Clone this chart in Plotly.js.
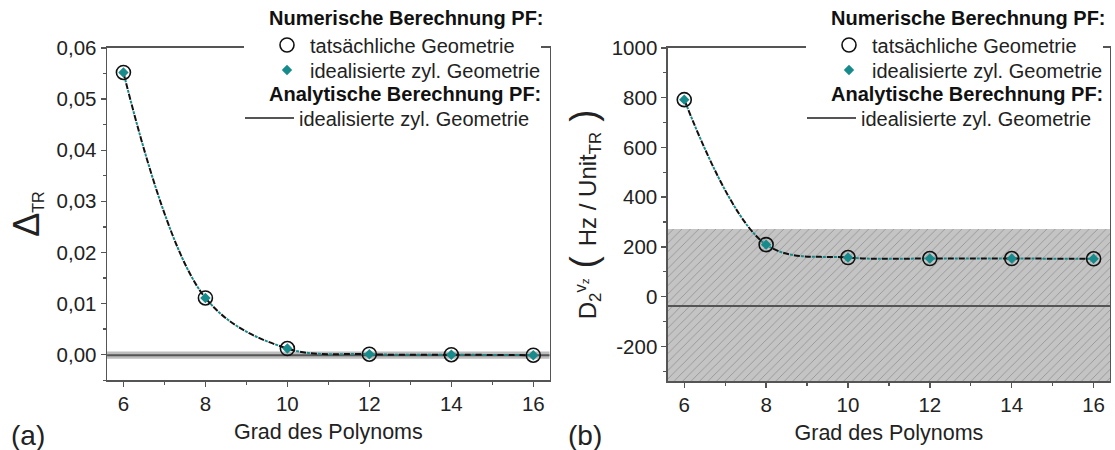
<!DOCTYPE html>
<html>
<head>
<meta charset="utf-8">
<script src="https://cdn.plot.ly/plotly-3.0.1.min.js"></script>
<style>
  html, body { margin: 0; padding: 0; background: #fff; }
  #chart { width: 1115px; height: 450px; }
</style>
</head>
<body>
<div id="chart"></div>
<script>
// Polynomial degree (x axis, both panels)
const grade = [6, 8, 10, 12, 14, 16];

// Panel (a): Delta_TR
const deltaReal  = [0.0552, 0.0111, 0.0012, 0.0001, 0.0000, -0.0001];
const deltaIdeal = [0.0552, 0.0111, 0.0012, 0.0001, 0.0000, -0.0001];
const deltaAnalytic = -0.0001;
const deltaAnalyticBand = 0.0007;

// Panel (b): D2^vz (Hz / Unit_TR)
const dReal  = [792, 209, 157, 153, 153, 152];
const dIdeal = [792, 209, 157, 153, 153, 152];
const dAnalytic = -38;
const dAnalyticBand = 310;

// Tick labels
const xTicks = [6, 8, 10, 12, 14, 16];
const yTicksA = [0, 0.01, 0.02, 0.03, 0.04, 0.05, 0.06];
const yTickTextA = ['0,00', '0,01', '0,02', '0,03', '0,04', '0,05', '0,06'];
const yTicksB = [-200, 0, 200, 400, 600, 800, 1000];
const yTickTextB = ['-200', '0', '200', '400', '600', '800', '1000'];

// Legend texts
const headNum = 'Numerische Berechnung PF:';
const headAna = 'Analytische Berechnung PF:';
const nameReal = 'tatsächliche Geometrie';
const nameIdeal = 'idealisierte zyl. Geometrie';

const FONT = 'Liberation Sans, Arial, Helvetica, sans-serif';
const TEAL = '#178b8b';
const XR = [5.6, 16.4];
const LEG_FONT = 20;
const H = 450, W = 1115;

// one legend per row so the rows keep a tight, even spacing
function panelTraces(xa, ya, real, ideal, ana, band, bandStyle, lgs) {
  const xEdge = [XR[0], XR[1], XR[1], XR[0], XR[0]];
  const yEdge = [ana - band, ana - band, ana + band, ana + band, ana - band];
  const bandTrace = Object.assign({
    x: xEdge, y: yEdge, xaxis: xa, yaxis: ya,
    mode: 'lines', fill: 'toself', line: {width: 0},
    hoverinfo: 'skip', showlegend: false
  }, bandStyle);
  return [
    bandTrace,
    {
      x: XR, y: [ana, ana], xaxis: xa, yaxis: ya,
      mode: 'lines', line: {color: '#555555', width: 2},
      name: nameIdeal, legend: lgs[2]
    },
    {
      x: grade, y: real, xaxis: xa, yaxis: ya,
      mode: 'lines', line: {color: '#111111', width: 2, dash: '6px,5px', shape: 'spline'},
      showlegend: false, hoverinfo: 'skip'
    },
    {
      x: grade, y: ideal, xaxis: xa, yaxis: ya,
      mode: 'lines', line: {color: TEAL, width: 2, dash: '0px,7px,3px,1px', shape: 'spline'},
      showlegend: false, hoverinfo: 'skip'
    },
    {
      x: grade, y: real, xaxis: xa, yaxis: ya,
      mode: 'markers', name: nameReal, legend: lgs[0],
      marker: {symbol: 'circle-open', size: 14, color: '#111111', line: {width: 1.6}}
    },
    {
      x: grade, y: ideal, xaxis: xa, yaxis: ya,
      mode: 'markers', name: nameIdeal, legend: lgs[1],
      marker: {symbol: 'diamond', size: 8, color: TEAL, line: {width: 0}}
    }
  ];
}

const data = [].concat(
  panelTraces('x', 'y', deltaReal, deltaIdeal, deltaAnalytic, deltaAnalyticBand,
    {fillcolor: '#bdbdbd'}, ['legend', 'legend2', 'legend3']),
  panelTraces('x2', 'y2', dReal, dIdeal, dAnalytic, dAnalyticBand,
    {fillcolor: '#c4c4c4', fillpattern: {shape: '/', bgcolor: '#c4c4c4', fgcolor: '#959595', size: 6, solidity: 0.15}},
    ['legend4', 'legend5', 'legend6'])
);

const axisCommon = {
  showline: true, linecolor: '#555555', linewidth: 1.5, mirror: true,
  ticks: 'outside', ticklen: 5, tickwidth: 1.3, tickcolor: '#555555',
  showgrid: false, zeroline: false,
  tickfont: {family: FONT, size: 20.5, color: '#222222'}
};

function xAxis(domain, anchor) {
  return Object.assign({}, axisCommon, {
    domain: domain, anchor: anchor, range: XR,
    tickvals: xTicks, ticktext: xTicks.map(String),
    minor: {dtick: 1, tick0: 0, ticks: 'outside', ticklen: 3, tickcolor: '#555555'},
    title: {text: 'Grad des Polynoms', font: {family: FONT, size: 21.5, color: '#222222'}, standoff: 9}
  });
}

function legendRow(xPx, yPx, itemwidth) {
  return {
    x: xPx / W, y: 1 - yPx / H, xanchor: 'left', yanchor: 'middle', xref: 'paper', yref: 'paper',
    bgcolor: 'rgba(255,255,255,0)', borderwidth: 0, itemwidth: itemwidth,
    font: {family: FONT, size: LEG_FONT, color: '#222222'},
    itemclick: false, itemdoubleclick: false, traceorder: 'normal'
  };
}

function header(text, xPx, yPx) {
  return {
    text: '<b>' + text + '</b>', x: xPx / W, y: 1 - yPx / H, xref: 'paper', yref: 'paper',
    xanchor: 'left', yanchor: 'middle', showarrow: false,
    font: {family: FONT, size: LEG_FONT, color: '#111111'}
  };
}

// white backing behind each legend block, interrupting the top frame line
function legendBacking(x0, x1) {
  return {
    type: 'rect', xref: 'paper', yref: 'paper', layer: 'above',
    x0: x0 / W, x1: x1 / W, y0: 1 - 130 / H, y1: 1 - 4 / H,
    fillcolor: '#ffffff', line: {width: 0}
  };
}

const rowY = [18, 45, 70, 94, 118];
const PANEL_SHIFT = 562;

const layout = {
  width: W, height: H,
  margin: {l: 0, r: 0, t: 0, b: 0},
  paper_bgcolor: '#ffffff', plot_bgcolor: '#ffffff',
  separators: ',.',
  showlegend: true,
  font: {family: FONT, color: '#222222'},
  xaxis: xAxis([0.096, 0.493], 'y'),
  yaxis: Object.assign({}, axisCommon, {
    domain: [0.155, 0.8935], anchor: 'x', range: [-0.005, 0.06],
    tickvals: yTicksA, ticktext: yTickTextA,
    minor: {dtick: 0.005, tick0: 0, ticks: 'outside', ticklen: 3, tickcolor: '#555555'},
    title: {text: '<span style="font-size:36px">Δ</span><sub>TR</sub>', font: {family: FONT, size: 23, color: '#222222'}, standoff: 10}
  }),
  xaxis2: xAxis([0.599, 0.9955], 'y2'),
  yaxis2: Object.assign({}, axisCommon, {
    domain: [0.153, 0.8935], anchor: 'x2', range: [-340, 1000],
    tickvals: yTicksB, ticktext: yTickTextB,
    minor: {dtick: 100, tick0: 0, ticks: 'outside', ticklen: 3, tickcolor: '#555555'},
    title: {
      text: 'D<sub>2</sub><sup>v<sub>z</sub></sup><span style="font-size:36px"> ( </span>Hz / Unit<sub>TR</sub><span style="font-size:36px"> )</span>',
      font: {family: FONT, size: 24, color: '#222222'}, standoff: 8
    }
  }),
  legend:  legendRow(264, rowY[1], 36),
  legend2: legendRow(264, rowY[2], 36),
  legend3: legendRow(240, rowY[4], 49),
  legend4: legendRow(264 + PANEL_SHIFT, rowY[1], 36),
  legend5: legendRow(264 + PANEL_SHIFT, rowY[2], 36),
  legend6: legendRow(240 + PANEL_SHIFT, rowY[4], 49),
  shapes: [legendBacking(244, 541), legendBacking(244 + PANEL_SHIFT, 541 + PANEL_SHIFT)],
  annotations: [
    header(headNum, 267, rowY[0]),
    header(headAna, 267, rowY[3]),
    header(headNum, 267 + PANEL_SHIFT, rowY[0]),
    header(headAna, 267 + PANEL_SHIFT, rowY[3]),
    {text: '(a)', x: 0.008, y: 0.033, xref: 'paper', yref: 'paper', xanchor: 'left', yanchor: 'middle',
     showarrow: false, font: {family: FONT, size: 28, color: '#222222'}},
    {text: '(b)', x: 0.508, y: 0.033, xref: 'paper', yref: 'paper', xanchor: 'left', yanchor: 'middle',
     showarrow: false, font: {family: FONT, size: 28, color: '#222222'}}
  ]
};

Plotly.newPlot('chart', data, layout, {staticPlot: true, displayModeBar: false});
</script>
</body>
</html>
